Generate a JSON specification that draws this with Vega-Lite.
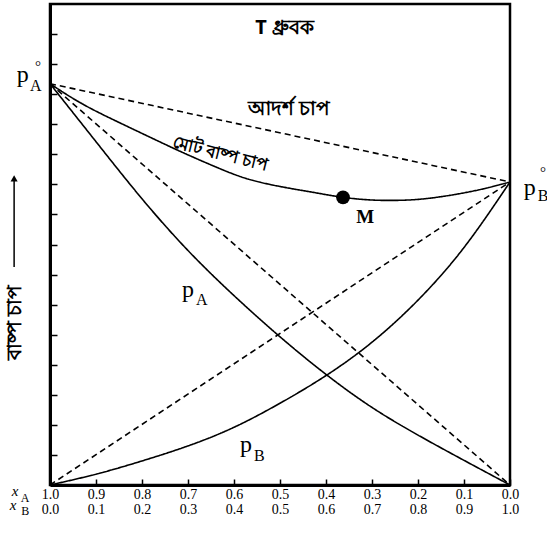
{
  "$schema": "https://vega.github.io/schema/vega-lite/v6.json",
  "width": 460,
  "height": 481,
  "autosize": "none",
  "padding": {"left": 50, "top": 4, "right": 37, "bottom": 50},
  "background": "white",
  "config": {
    "view": {"stroke": "black", "strokeWidth": 2.5},
    "axis": {"domainColor": "black", "domainWidth": 3, "tickColor": "black", "tickWidth": 1.5, "grid": false}
  },
  "datasets": {
    "curves": [
      {"series": "pA", "kind": "real", "xB": 0, "p": 13.35},
      {"series": "pA", "kind": "real", "xB": 0.1, "p": 11.42},
      {"series": "pA", "kind": "real", "xB": 0.2, "p": 9.52},
      {"series": "pA", "kind": "real", "xB": 0.3, "p": 7.8},
      {"series": "pA", "kind": "real", "xB": 0.4, "p": 6.3},
      {"series": "pA", "kind": "real", "xB": 0.5, "p": 4.93},
      {"series": "pA", "kind": "real", "xB": 0.6, "p": 3.68},
      {"series": "pA", "kind": "real", "xB": 0.7, "p": 2.58},
      {"series": "pA", "kind": "real", "xB": 0.8, "p": 1.66},
      {"series": "pA", "kind": "real", "xB": 0.9, "p": 0.82},
      {"series": "pA", "kind": "real", "xB": 1.0, "p": 0},
      {"series": "pB", "kind": "real", "xB": 0, "p": 0},
      {"series": "pB", "kind": "real", "xB": 0.1, "p": 0.36},
      {"series": "pB", "kind": "real", "xB": 0.2, "p": 0.8},
      {"series": "pB", "kind": "real", "xB": 0.3, "p": 1.3},
      {"series": "pB", "kind": "real", "xB": 0.4, "p": 1.92},
      {"series": "pB", "kind": "real", "xB": 0.5, "p": 2.72},
      {"series": "pB", "kind": "real", "xB": 0.6, "p": 3.64},
      {"series": "pB", "kind": "real", "xB": 0.7, "p": 4.75},
      {"series": "pB", "kind": "real", "xB": 0.8, "p": 6.15},
      {"series": "pB", "kind": "real", "xB": 0.9, "p": 7.9},
      {"series": "pB", "kind": "real", "xB": 1.0, "p": 10.08},
      {"series": "total", "kind": "real", "xB": 0, "p": 13.35},
      {"series": "total", "kind": "real", "xB": 0.07, "p": 12.68},
      {"series": "total", "kind": "real", "xB": 0.15, "p": 12.06},
      {"series": "total", "kind": "real", "xB": 0.22, "p": 11.55},
      {"series": "total", "kind": "real", "xB": 0.29, "p": 11.05},
      {"series": "total", "kind": "real", "xB": 0.365, "p": 10.55},
      {"series": "total", "kind": "real", "xB": 0.43, "p": 10.18},
      {"series": "total", "kind": "real", "xB": 0.5, "p": 9.93},
      {"series": "total", "kind": "real", "xB": 0.57, "p": 9.74},
      {"series": "total", "kind": "real", "xB": 0.637, "p": 9.57},
      {"series": "total", "kind": "real", "xB": 0.7, "p": 9.48},
      {"series": "total", "kind": "real", "xB": 0.76, "p": 9.47},
      {"series": "total", "kind": "real", "xB": 0.82, "p": 9.53},
      {"series": "total", "kind": "real", "xB": 0.89, "p": 9.69},
      {"series": "total", "kind": "real", "xB": 0.95, "p": 9.88},
      {"series": "total", "kind": "real", "xB": 1.0, "p": 10.08},
      {"series": "idealTotal", "kind": "ideal", "xB": 0, "p": 13.35},
      {"series": "idealTotal", "kind": "ideal", "xB": 1, "p": 10.08},
      {"series": "idealA", "kind": "ideal", "xB": 0, "p": 13.35},
      {"series": "idealA", "kind": "ideal", "xB": 1, "p": 0},
      {"series": "idealB", "kind": "ideal", "xB": 0, "p": 0},
      {"series": "idealB", "kind": "ideal", "xB": 1, "p": 10.08}
    ]
  },
  "encoding": {
    "x": {
      "field": "xB", "type": "quantitative",
      "scale": {"domain": [0, 1], "nice": false, "zero": false},
      "axis": {
        "values": [0, 0.1, 0.2, 0.3, 0.4, 0.5, 0.6, 0.7, 0.8, 0.9, 1.0],
        "tickSize": -6,
        "labelExpr": "[format(1 - datum.value, '.1f'), format(datum.value, '.1f')]",
        "labelFont": "Liberation Serif", "labelFontSize": 14, "labelColor": "black",
        "labelLineHeight": 15, "labelPadding": 8, "labelOverlap": false, "labelFlush": false,
        "title": null
      }
    },
    "y": {
      "field": "p", "type": "quantitative",
      "scale": {"domain": [0, 16], "nice": false, "zero": false},
      "axis": {
        "values": [1, 2, 3, 4, 5, 6, 7, 8, 9, 10, 11, 12, 13, 14, 15],
        "tickSize": -7, "labels": false,
        "title": "বাষ্প চাপ", "titleX": -36, "titleY": 318, "titleAngle": 270,
        "titleAlign": "center", "titleBaseline": "middle",
        "titleFontSize": 20, "titleFontWeight": "bold", "titleColor": "black", "titleFont": "Noto Sans"
      }
    }
  },
  "layer": [
    {
      "data": {"name": "curves"},
      "mark": {"type": "line", "color": "black", "strokeWidth": 1.6, "interpolate": "natural"},
      "encoding": {
        "detail": {"field": "series"},
        "strokeDash": {"field": "kind", "type": "nominal", "scale": {"domain": ["real", "ideal"], "range": [[1, 0], [6, 4]]}, "legend": null}
      }
    },
    {
      "data": {"values": [{"label": "M", "xB": 0.637, "p": 9.57}]},
      "mark": {"type": "point", "filled": true, "color": "black", "size": 190, "opacity": 1}
    },
    {
      "data": {"values": [{"xB": -0.078, "p": 7.25}, {"xB": -0.078, "p": 10.2}]},
      "mark": {"type": "line", "color": "black", "strokeWidth": 1.5}
    },
    {
      "data": {"values": [{"xB": -0.078, "p": 10.2}]},
      "mark": {"type": "point", "shape": "triangle-up", "filled": true, "color": "black", "size": 50, "opacity": 1}
    },
    {
      "data": {"values": [
        {"label": "T ধ্রুবক", "xB": 0.51, "p": 15.2},
        {"label": "আদর্শ চাপ", "xB": 0.52, "p": 12.5}
      ]},
      "mark": {"type": "text", "font": "Noto Sans", "fontSize": 20, "fontWeight": "bold", "color": "black", "baseline": "middle", "align": "center"},
      "encoding": {"text": {"field": "label"}}
    },
    {
      "data": {"values": [{"label": "মোট বাষ্প চাপ", "xB": 0.37, "p": 11.0}]},
      "mark": {"type": "text", "font": "Noto Sans", "fontSize": 17, "fontWeight": "bold", "color": "black", "baseline": "middle", "align": "center", "angle": 14},
      "encoding": {"text": {"field": "label"}}
    },
    {
      "data": {"values": [
        {"label": "p", "xB": -0.059, "p": 13.64},
        {"label": "p", "xB": 1.043, "p": 9.88},
        {"label": "p", "xB": 0.30, "p": 6.49},
        {"label": "p", "xB": 0.426, "p": 1.33}
      ]},
      "mark": {"type": "text", "font": "Liberation Serif", "fontSize": 24, "color": "black", "baseline": "middle", "align": "center"},
      "encoding": {"text": {"field": "label"}}
    },
    {
      "data": {"values": [
        {"label": "A", "xB": -0.031, "p": 13.28},
        {"label": "B", "xB": 1.072, "p": 9.6},
        {"label": "A", "xB": 0.33, "p": 6.17},
        {"label": "B", "xB": 0.455, "p": 0.98}
      ]},
      "mark": {"type": "text", "font": "Liberation Serif", "fontSize": 16, "color": "black", "baseline": "middle", "align": "center"},
      "encoding": {"text": {"field": "label"}}
    },
    {
      "data": {"values": [
        {"label": "°", "xB": -0.026, "p": 13.95},
        {"label": "°", "xB": 1.072, "p": 10.4}
      ]},
      "mark": {"type": "text", "font": "Liberation Serif", "fontSize": 15, "color": "black", "baseline": "middle", "align": "center"},
      "encoding": {"text": {"field": "label"}}
    },
    {
      "data": {"values": [{"label": "M", "xB": 0.685, "p": 8.92}]},
      "mark": {"type": "text", "font": "Liberation Serif", "fontSize": 19, "fontWeight": "bold", "color": "black", "baseline": "middle", "align": "center"},
      "encoding": {"text": {"field": "label"}}
    },
    {
      "data": {"values": [
        {"label": "x", "xB": -0.076, "p": -0.2},
        {"label": "x", "xB": -0.08, "p": -0.66}
      ]},
      "mark": {"type": "text", "font": "Liberation Serif", "fontStyle": "italic", "fontSize": 15, "color": "black", "baseline": "middle", "align": "center"},
      "encoding": {"text": {"field": "label"}}
    },
    {
      "data": {"values": [
        {"label": "A", "xB": -0.054, "p": -0.43},
        {"label": "B", "xB": -0.054, "p": -0.88}
      ]},
      "mark": {"type": "text", "font": "Liberation Serif", "fontSize": 12, "color": "black", "baseline": "middle", "align": "center"},
      "encoding": {"text": {"field": "label"}}
    }
  ]
}
